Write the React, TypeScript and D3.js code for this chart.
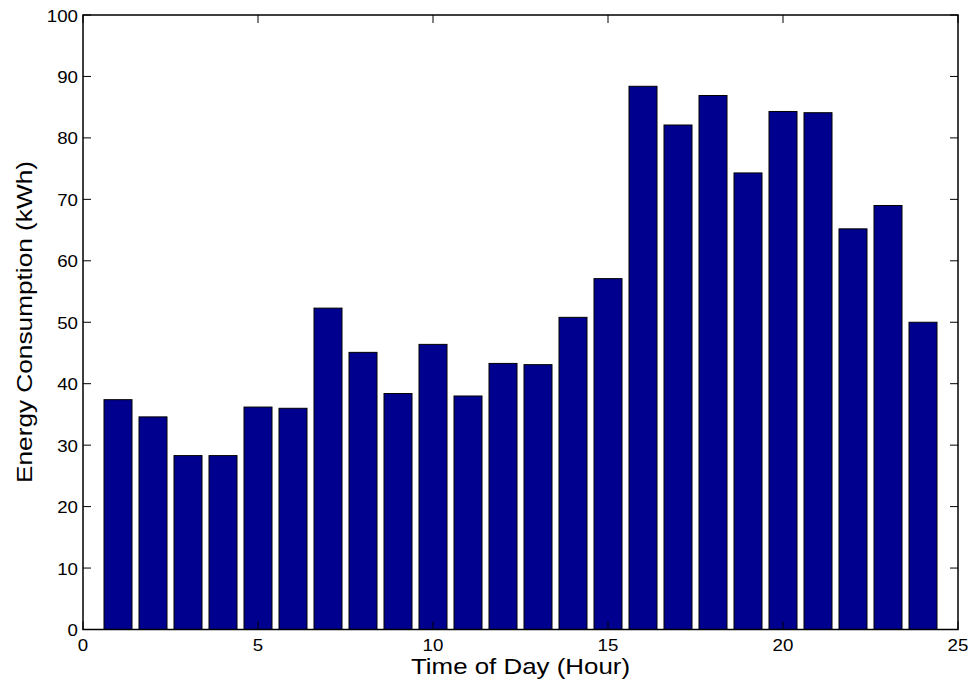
import React from "react";
import * as d3 from "d3";

const hours = [1,2,3,4,5,6,7,8,9,10,11,12,13,14,15,16,17,18,19,20,21,22,23,24];
const consumption = [37.4,34.6,28.3,28.3,36.2,36.0,52.3,45.1,38.4,46.4,38.0,43.3,43.1,50.8,57.1,88.4,82.1,86.9,74.3,84.3,84.1,65.2,69.0,50.0];
const xTicks = [0,5,10,15,20,25];
const yTicks = [0,10,20,30,40,50,60,70,80,90,100];

const W = 978, H = 689;
const L = 83, R = 958, T = 15, B = 629.5;

export default function App() {
  const x = d3.scaleLinear().domain([0, 25]).range([L, R]);
  const y = d3.scaleLinear().domain([0, 100]).range([B, T]);
  const bw = 0.8;
  const font = "'Liberation Sans', Arial, Helvetica, sans-serif";
  const tl = 8;
  const cw = 10.4;
  return (
    <svg width={W} height={H} style={{ position: "absolute", left: 0, top: 0, background: "#fff" }}>
      <rect x={0} y={0} width={W} height={H} fill="#fff" />
      {hours.map((h, i) => (
        <rect key={h} x={x(h - bw / 2)} y={y(consumption[i])} width={x(h + bw / 2) - x(h - bw / 2)}
          height={y(0) - y(consumption[i])} fill="#00008F" stroke="#000" strokeWidth={1} />
      ))}
      <rect x={L} y={T} width={R - L} height={B - T} fill="none" stroke="#000" strokeWidth={1.5} />
      {xTicks.map((t) => (
        <g key={"x" + t}>
          <line x1={x(t)} x2={x(t)} y1={B} y2={B - tl} stroke="#000" />
          <line x1={x(t)} x2={x(t)} y1={T} y2={T + tl} stroke="#000" />
          <text x={x(t)} y={B + 21.5} textAnchor="middle" fontFamily={font} fontSize={16.5}
            textLength={String(t).length * cw} lengthAdjust="spacingAndGlyphs">{t}</text>
        </g>
      ))}
      {yTicks.map((t) => (
        <g key={"y" + t}>
          <line x1={L} x2={L + tl} y1={y(t)} y2={y(t)} stroke="#000" />
          <line x1={R} x2={R - tl} y1={y(t)} y2={y(t)} stroke="#000" />
          <text x={L - 5} y={y(t) + 6.5} textAnchor="end" fontFamily={font} fontSize={16.5}
            textLength={String(t).length * cw} lengthAdjust="spacingAndGlyphs">{t}</text>
        </g>
      ))}
      <text x={(L + R) / 2} y={674} textAnchor="middle" fontFamily={font} fontSize={21.5}
        textLength={219} lengthAdjust="spacingAndGlyphs">Time of Day (Hour)</text>
      <text transform={`translate(32, 322) rotate(-90)`} textAnchor="middle" fontFamily={font} fontSize={22}
        textLength={322} lengthAdjust="spacingAndGlyphs">Energy Consumption (kWh)</text>
    </svg>
  );
}
